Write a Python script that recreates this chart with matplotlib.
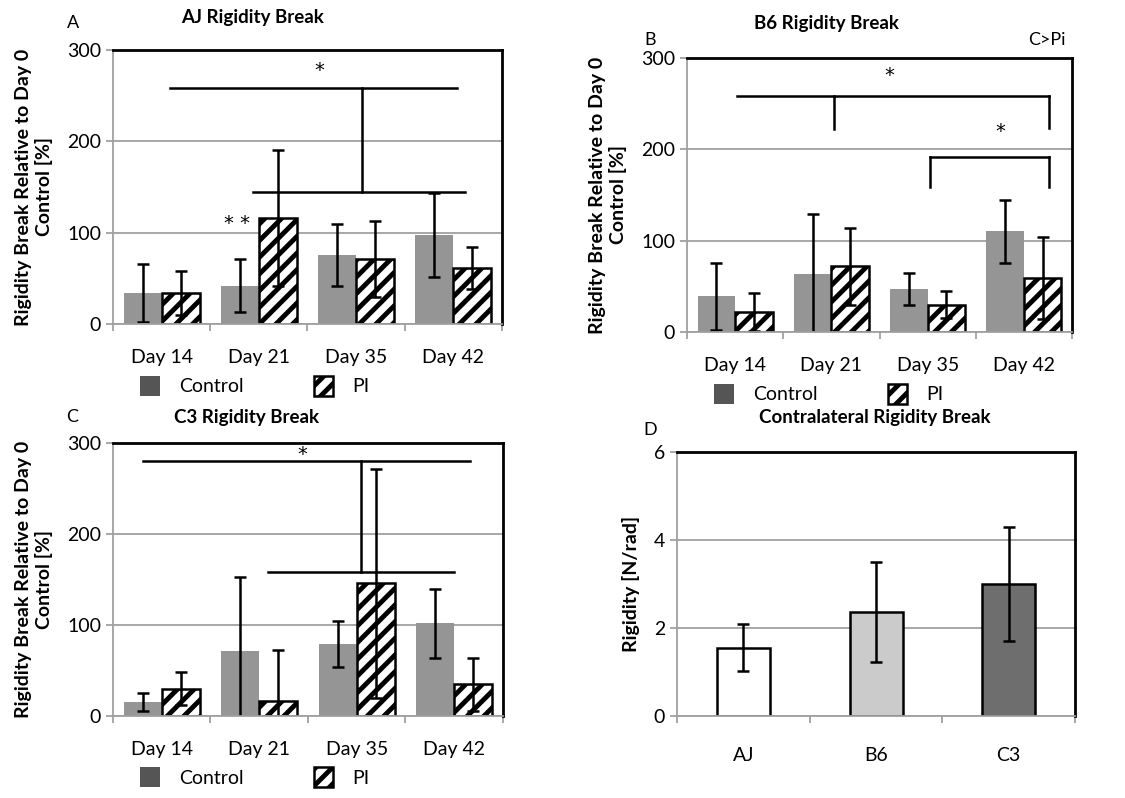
import numpy as np
import matplotlib
matplotlib.use("Agg")
import matplotlib.pyplot as plt
from matplotlib.patches import Patch

plt.rcParams['font.family'] = ['Lato', 'DejaVu Sans']
plt.rcParams['hatch.linewidth'] = 3.5

# data
days = ["Day 14", "Day 21", "Day 35", "Day 42"]

aj_ctrl = [34, 42, 76, 97]
aj_ctrl_err = [32, 29, 34, 46]
aj_pi = [34, 116, 71, 61]
aj_pi_err = [24, 74, 42, 23]

b6_ctrl = [39, 63, 47, 110]
b6_ctrl_err = [37, 66, 18, 34]
b6_pi = [22, 72, 30, 59]
b6_pi_err = [21, 42, 15, 45]

c3_ctrl = [15, 71, 79, 102]
c3_ctrl_err = [10, 82, 25, 38]
c3_pi = [30, 16, 146, 35]
c3_pi_err = [18, 56, 126, 29]

strains = ["AJ", "B6", "C3"]
contra = [1.55, 2.36, 3.0]
contra_err = [0.53, 1.14, 1.3]

# significance brackets: horizontal (x0, x1, y), vertical (x, y0, y1), stars (x, y, text)
aj_h = [(0.09, 3.04, 258), (0.94, 3.12, 144)]
aj_v = [(2.06, 144, 258)]
aj_stars = [(1.62, 278, "*"), (0.78, 110, "* *")]

b6_h = [(0.02, 3.26, 258), (2.02, 3.26, 192)]
b6_v = [(1.03, 222, 258), (3.26, 223, 258), (2.02, 159, 192), (3.26, 159, 192)]
b6_stars = [(1.60, 281, "*"), (2.75, 220, "*")]

c3_h = [(-0.19, 3.16, 280), (1.09, 3.0, 158)]
c3_v = [(2.04, 158, 280)]
c3_stars = [(1.44, 287, "*")]

ctrl_col = '#959595'
grid_col = '#a0a0a0'

W, H = 1125.0, 798.0


def ftext(px, py, s, **kw):
	fig.text(px / W, 1 - py / H, s, ha='center', va='center', **kw)


def style_axes(ax):
	ax.set_axisbelow(True)
	ax.yaxis.grid(True, color=grid_col, lw=1.3)
	for s in ['top', 'right']:
		ax.spines[s].set_color('black')
		ax.spines[s].set_linewidth(2)
	for s in ['left', 'bottom']:
		ax.spines[s].set_color(grid_col)
		ax.spines[s].set_linewidth(1.3)
	ax.tick_params(axis='y', colors=grid_col, labelcolor='black', labelsize=14, length=5, width=1.3)
	ax.tick_params(axis='x', which='major', length=0, labelsize=14, pad=18)
	ax.tick_params(axis='x', which='minor', colors=grid_col, length=5, width=1.3)


def day_panel(rect, ctrl, ctrl_err, pi, pi_err, hl, vl, stars):
	ax = fig.add_axes(rect)
	x = np.arange(len(days))
	w = 0.39
	ekw = dict(ecolor='black', elinewidth=1.8, capsize=4, capthick=1.8)
	ax.bar(x - w / 2, ctrl, w, color=ctrl_col, yerr=ctrl_err, error_kw=ekw, zorder=2)
	ax.bar(x + w / 2, pi, w, color='white', edgecolor='black', lw=1.8, hatch='//',
		yerr=pi_err, error_kw=ekw, zorder=2)
	for x0, x1, y in hl:
		ax.plot([x0, x1], [y, y], color='black', lw=1.8, zorder=3, clip_on=False)
	for xv, y0, y1 in vl:
		ax.plot([xv, xv], [y0, y1], color='black', lw=1.8, zorder=3, clip_on=False)
	for xs, ys, t in stars:
		ax.text(xs, ys, t, ha='center', va='center', fontsize=14, family='DejaVu Sans')
	ax.set_xlim(-0.5, 3.5)
	ax.set_ylim(0, 300)
	ax.set_yticks([0, 100, 200, 300])
	ax.set_xticks(x)
	ax.set_xticklabels(days)
	ax.set_xticks(np.arange(-0.5, 4, 1), minor=True)
	style_axes(ax)
	ax.set_ylabel("Rigidity Break Relative to Day 0\nControl [%]", fontsize=14,
		fontweight='bold', labelpad=10, linespacing=1.2)
	handles = [Patch(facecolor='#555555', edgecolor='none'),
		Patch(facecolor='white', edgecolor='black', hatch='//', lw=1.8)]
	ax.legend(handles, ["Control", "PI"], loc='center left', bbox_to_anchor=(0.05, -0.225),
		ncol=2, frameon=False, fontsize=14, handlelength=1.0, handleheight=1.2,
		handletextpad=1.0, columnspacing=3.6, borderaxespad=0)
	return ax


fig = plt.figure(figsize=(11.25, 7.98), dpi=100)

day_panel([0.1004, 0.594, 0.3458, 0.3434], aj_ctrl, aj_ctrl_err, aj_pi, aj_pi_err,
	aj_h, aj_v, aj_stars)
ftext(253, 17, "AJ Rigidity Break", fontsize=13.5, fontweight='bold')
ftext(73, 23, "A", fontsize=13)

day_panel([0.6107, 0.584, 0.3422, 0.3434], b6_ctrl, b6_ctrl_err, b6_pi, b6_pi_err,
	b6_h, b6_v, b6_stars)
ftext(827, 23, "B6 Rigidity Break", fontsize=13.5, fontweight='bold')
ftext(650, 40, "B", fontsize=13)
ftext(1047, 40, "C>Pi", fontsize=13)

day_panel([0.1004, 0.1028, 0.3467, 0.342], c3_ctrl, c3_ctrl_err, c3_pi, c3_pi_err,
	c3_h, c3_v, c3_stars)
ftext(247, 417, "C3 Rigidity Break", fontsize=13.5, fontweight='bold')
ftext(72, 417, "C", fontsize=13)

# panel D
axd = fig.add_axes([0.6018, 0.1028, 0.3538, 0.3308])
xd = np.arange(len(strains))
axd.bar(xd, contra, 0.4, color=['white', '#cbcbcb', '#6e6e6e'], edgecolor='black', lw=1.8,
	yerr=contra_err, error_kw=dict(ecolor='black', elinewidth=1.8, capsize=4, capthick=1.8), zorder=2)
axd.set_xlim(-0.5, 2.5)
axd.set_ylim(0, 6)
axd.set_yticks([0, 2, 4, 6])
axd.set_xticks(xd)
axd.set_xticklabels(strains)
axd.set_xticks(np.arange(-0.5, 3, 1), minor=True)
style_axes(axd)
axd.tick_params(axis='x', which='major', pad=22)
axd.set_ylabel("Rigidity [N/rad]", fontsize=14, fontweight='bold', labelpad=10)
ftext(875, 418, "Contralateral Rigidity Break", fontsize=13.5, fontweight='bold')
ftext(650, 430, "D", fontsize=13)

fig.savefig("out.png", dpi=100)
